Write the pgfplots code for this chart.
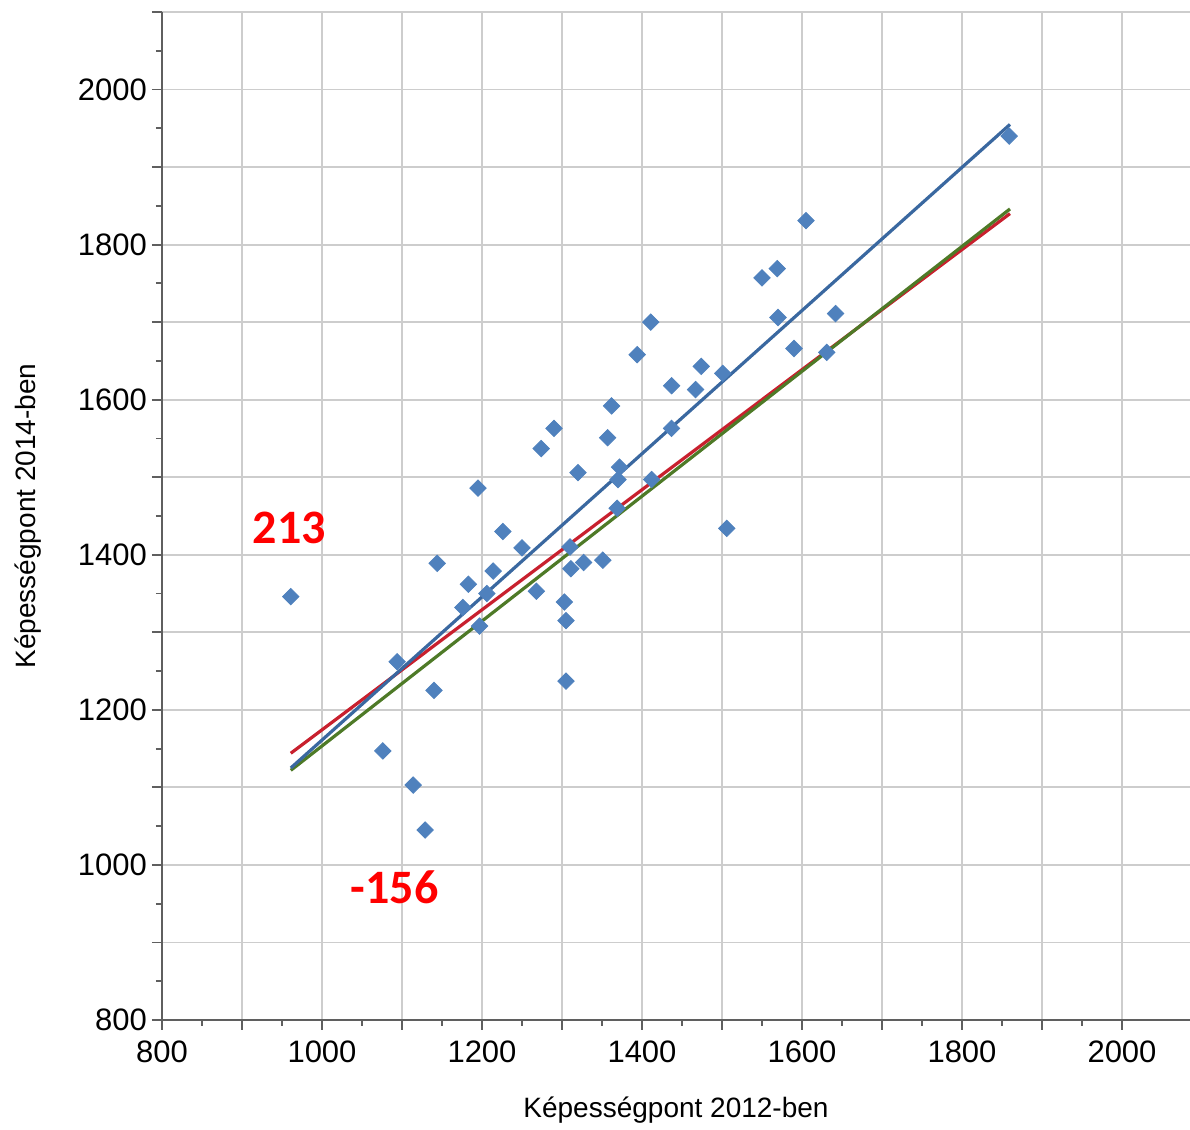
\documentclass[border=0pt]{standalone}
\usepackage{pgfplots}
\pgfplotsset{compat=1.18}
\usepackage{fontspec}
\setmainfont{Liberation Sans}
\newfontfamily\calib{Carlito}
\definecolor{ptblue}{RGB}{79,129,189}
\definecolor{lnblue}{RGB}{58,104,160}
\definecolor{lnred}{RGB}{200,32,46}
\definecolor{lngreen}{RGB}{78,122,39}
\definecolor{gridgray}{RGB}{205,205,205}
\definecolor{axgray}{RGB}{95,95,95}
\begin{document}
\begin{tikzpicture}
\begin{axis}[
  scale only axis, width=514pt, height=504pt,
  xmin=800, xmax=2085, ymin=800, ymax=2100,
  axis x line*=bottom, axis y line*=left,
  axis line style={axgray, line width=1pt, -},
  xtick={800,900,...,2000},
  xticklabels={800,,1000,,1200,,1400,,1600,,1800,,2000},
  ytick={800,900,...,2100},
  yticklabels={800,,1000,,1200,,1400,,1600,,1800,,2000,},
  minor x tick num=1, minor y tick num=1,
  tick align=outside,
  major tick length=5pt, minor tick length=3pt,
  every tick/.style={axgray, line width=0.9pt},
  grid=major,
  major grid style={gridgray, line width=0.9pt},
  /pgf/number format/assume math mode=true,
  ticklabel style={font=\fontsize{15.5}{18}\selectfont},
  xticklabel style={yshift=-2pt},
  yticklabel style={xshift=1pt},
  xlabel={Képességpont 2012-ben},
  ylabel={Képességpont 2014-ben},
  label style={font=\fontsize{14}{17}\selectfont},
  xlabel style={at={(axis description cs:0.5,0)}, anchor=center, yshift=-45pt},
  ylabel style={at={(axis description cs:0,0.5)}, anchor=center, yshift=67pt},
  clip=false,
]
\addplot[only marks, mark=square*, mark size=2.9pt,
  mark options={rotate=45, fill=ptblue, draw=ptblue}] coordinates {
(961,1346) (1094,1262) (1076,1147) (1114,1103) (1129,1045)
(1140,1225) (1144,1389) (1176,1332) (1183,1362) (1197,1308)
(1195,1486) (1206,1350) (1214,1379) (1226,1430) (1250,1409)
(1268,1353) (1274,1537) (1290,1563) (1303,1339) (1305,1315)
(1305,1237) (1311,1382) (1327,1390) (1351,1393) (1310,1410)
(1320,1506) (1362,1592) (1357,1551) (1372,1513) (1370,1497)
(1369,1460) (1394,1658) (1411,1700) (1437,1618) (1437,1563)
(1412,1497) (1467,1613) (1474,1643) (1501,1634) (1506,1434)
(1550,1757) (1569,1769) (1570,1706) (1590,1666) (1631,1661)
(1642,1711) (1605,1831) (1859,1940)
};
\addplot[lnred, line width=1.6pt] coordinates {(961,1144) (1860,1840)};
\addplot[lngreen, line width=1.6pt] coordinates {(961,1122) (1860,1846)};
\addplot[lnblue, line width=1.6pt] coordinates {(961,1125) (1860,1955)};
\node[text=red, font=\calib\bfseries\fontsize{24}{28}\selectfont] at (axis cs:959,1435) {213};
\node[text=red, font=\calib\bfseries\fontsize{24}{28}\selectfont] at (axis cs:1091,971) {-156};
\end{axis}
\pgfresetboundingbox
\path[use as bounding box] (-81pt,-55pt) rectangle (514pt,510pt);
\end{tikzpicture}
\end{document}
